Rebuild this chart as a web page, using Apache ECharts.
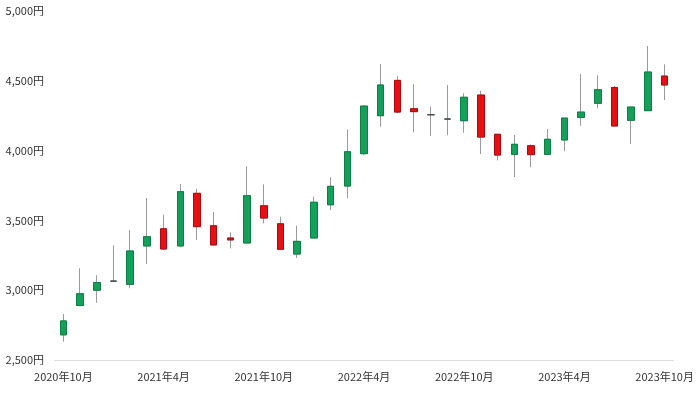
<!DOCTYPE html>
<html>
<head>
<meta charset="utf-8">
<script src="https://cdn.jsdelivr.net/npm/echarts@6/dist/echarts.min.js"></script>
<style>html,body{margin:0;padding:0;background:#fff;}#chart{width:700px;height:393px;}</style>
</head>
<body>
<div id="chart"></div>
<script>
const categories = [
  "2020年10月","2020年11月","2020年12月","2021年1月","2021年2月","2021年3月",
  "2021年4月","2021年5月","2021年6月","2021年7月","2021年8月","2021年9月",
  "2021年10月","2021年11月","2021年12月","2022年1月","2022年2月","2022年3月",
  "2022年4月","2022年5月","2022年6月","2022年7月","2022年8月","2022年9月",
  "2022年10月","2022年11月","2022年12月","2023年1月","2023年2月","2023年3月",
  "2023年4月","2023年5月","2023年6月","2023年7月","2023年8月","2023年9月",
  "2023年10月"
];
const openValues  = [2680,2890,3000,3065,3042,3317,3440,3317,3694,3462,3374,3338,3605,3476,3259,3374,3612,3746,3978,4250,4503,4300,4257,4226,4214,4398,4117,3973,4035,3973,4076,4238,4339,4452,4217,4286,4534];
const closeValues = [2780,2975,3055,3065,3281,3383,3295,3706,3455,3324,3360,3677,3517,3293,3350,3630,3744,3992,4319,4470,4276,4279,4257,4226,4382,4097,3968,4045,3971,4081,4233,4276,4436,4176,4312,4563,4470];
const lowValues   = [2631,2887,2910,3059,3014,3188,3288,3307,3360,3324,3300,3338,3479,3293,3231,3374,3574,3658,3968,4171,4267,4131,4104,4110,4128,3976,3930,3811,3880,3973,3995,4178,4303,4176,4047,4286,4362];
const highValues  = [2829,3157,3107,3321,3431,3660,3541,3761,3727,3560,3415,3887,3758,3526,3462,3670,3809,4152,4324,4620,4534,4475,4314,4470,4410,4429,4117,4112,4045,4155,4233,4549,4539,4463,4312,4749,4618];
const yTicks = [2500, 3000, 3500, 4000, 4500, 5000];

const fullData = categories.map((c, i) => [openValues[i], closeValues[i], lowValues[i], highValues[i]]);
const bodyData = categories.map((c, i) => {
  const lo = Math.min(openValues[i], closeValues[i]);
  const hi = Math.max(openValues[i], closeValues[i]);
  return [openValues[i], closeValues[i], lo, hi];
});

const chart = echarts.init(document.getElementById('chart'), null, {renderer: 'canvas'});
const font = '"Noto Sans CJK JP", "Noto Sans", sans-serif';
chart.setOption({
  animation: false,
  grid: {left: 55, right: 27, top: 11, bottom: 33},
  xAxis: {
    type: 'category',
    data: categories,
    boundaryGap: true,
    axisLine: {show: true, lineStyle: {color: '#dcdcdc', width: 1}},
    axisTick: {show: false},
    axisLabel: {
      interval: 5, color: '#333', fontSize: 11, fontFamily: font, margin: 11
    },
    splitLine: {show: false}
  },
  yAxis: {
    type: 'value',
    min: yTicks[0], max: yTicks[yTicks.length - 1], interval: 500,
    axisLine: {show: false},
    axisTick: {show: false},
    splitLine: {show: false},
    axisLabel: {
      color: '#333', fontSize: 11, fontFamily: font, margin: 11,
      formatter: v => v.toLocaleString('en-US') + '円'
    }
  },
  series: [
    {
      type: 'candlestick',
      data: fullData,
      barWidth: 7,
      itemStyle: {
        color: '#9a9a9a', color0: '#9a9a9a',
        borderColor: '#9a9a9a', borderColor0: '#9a9a9a', borderColorDoji: '#9a9a9a',
        borderWidth: 1
      },
      z: 1
    },
    {
      type: 'candlestick',
      data: bodyData,
      barWidth: 7,
      itemStyle: {
        color: '#14a05a', color0: '#e60f14',
        borderColor: '#0d7d45', borderColor0: '#a80c10', borderColorDoji: '#3d4d48',
        borderWidth: 1
      },
      z: 2
    }
  ]
});
</script>
</body>
</html>
